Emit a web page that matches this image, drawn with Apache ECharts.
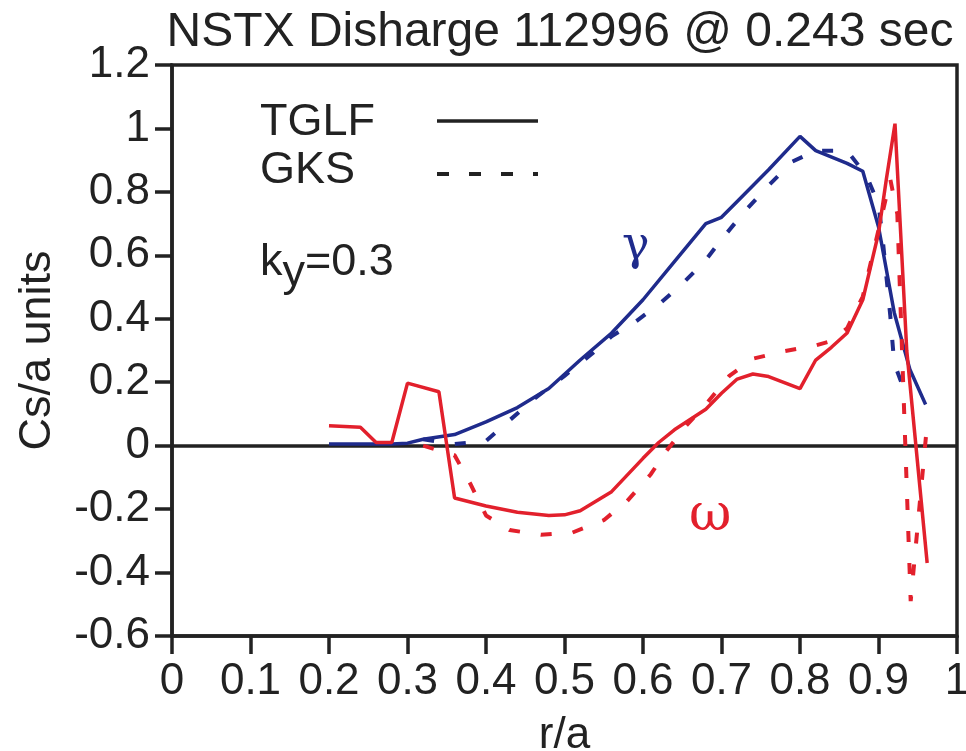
<!DOCTYPE html>
<html>
<head>
<meta charset="utf-8">
<script src="https://cdn.jsdelivr.net/npm/echarts@6/dist/echarts.min.js"></script>
<style>html,body{margin:0;padding:0;background:#fff;}#c{width:966px;height:751px;}</style>
</head>
<body>
<div id="c"></div>
<script>
// ---- data ----
var titleText = 'NSTX Disharge 112996 @ 0.243 sec';
var xTicks = [0, 0.1, 0.2, 0.3, 0.4, 0.5, 0.6, 0.7, 0.8, 0.9, 1];
var yTicks = [-0.6, -0.4, -0.2, 0, 0.2, 0.4, 0.6, 0.8, 1, 1.2];

var tglfGammaR = [0.20,0.24,0.28,0.30,0.32,0.36,0.40,0.44,0.48,0.52,0.56,0.60,0.64,0.68,0.70,0.72,0.76,0.80,0.82,0.86,0.88,0.90,0.92,0.94,0.96];
var tglfGammaV = [0.005,0.005,0.005,0.008,0.02,0.035,0.075,0.12,0.18,0.27,0.355,0.46,0.58,0.70,0.72,0.77,0.87,0.975,0.93,0.89,0.865,0.69,0.42,0.24,0.13];

var gksGammaR = [0.32,0.36,0.40,0.43,0.46,0.50,0.54,0.56,0.59,0.62,0.65,0.68,0.70,0.73,0.76,0.79,0.82,0.86,0.885,0.90,0.905,0.915,0.92,0.935];
var gksGammaV = [0.02,0.005,0.015,0.08,0.145,0.22,0.30,0.345,0.39,0.445,0.51,0.585,0.65,0.74,0.82,0.895,0.93,0.93,0.85,0.76,0.66,0.41,0.26,0.16];

var tglfOmegaR = [0.20,0.24,0.26,0.28,0.30,0.34,0.36,0.40,0.44,0.48,0.50,0.52,0.56,0.60,0.62,0.64,0.68,0.70,0.72,0.74,0.76,0.80,0.82,0.84,0.86,0.88,0.90,0.91,0.921,0.936,0.962];
var tglfOmegaV = [0.063,0.058,0.01,0.01,0.197,0.17,-0.165,-0.19,-0.21,-0.22,-0.218,-0.205,-0.145,-0.04,0.01,0.05,0.115,0.165,0.21,0.226,0.218,0.18,0.27,0.31,0.355,0.46,0.67,0.84,1.015,0.30,-0.37];

var gksOmegaR = [0.32,0.36,0.38,0.40,0.43,0.47,0.51,0.55,0.58,0.61,0.63,0.655,0.68,0.71,0.74,0.78,0.82,0.84,0.86,0.88,0.90,0.915,0.924,0.941,0.962];
var gksOmegaV = [0.0,-0.03,-0.12,-0.22,-0.266,-0.281,-0.274,-0.235,-0.174,-0.09,-0.016,0.063,0.13,0.22,0.274,0.298,0.316,0.33,0.37,0.47,0.68,0.84,0.73,-0.49,0.07];

function pairs(r, v) { return r.map(function (x, i) { return [x, v[i]]; }); }

var BLUE = '#1f2b8c';
var RED = '#e2202c';
var INK = '#222222';
var FONT = 'Liberation Sans';
var DASH = [11, 21];
var LW = 3.5;

var chart = echarts.init(document.getElementById('c'), null, {renderer: 'canvas'});
chart.setOption({
  backgroundColor: '#ffffff',
  animation: false,
  title: {
    text: titleText, left: 555, top: 4, textAlign: 'center',
    textStyle: {fontFamily: FONT, fontSize: 48, fontWeight: 'normal', color: INK}
  },
  grid: {left: 172, right: 9, top: 65, bottom: 115, show: true, borderColor: INK, borderWidth: 3.5,
    outerBoundsMode: 'none', containLabel: false},
  xAxis: {
    type: 'value', min: 0, max: 1, interval: 0.1,
    name: 'r/a', nameLocation: 'middle', nameGap: 78,
    nameTextStyle: {fontFamily: FONT, fontSize: 44, color: INK},
    axisLine: {show: true, onZero: false, lineStyle: {color: INK, width: 3.5}},
    axisTick: {show: true, length: 18, lineStyle: {color: INK, width: 3.5}},
    axisLabel: {margin: 24, fontFamily: FONT, fontSize: 44, color: INK,
      formatter: function (v) { return String(+v.toFixed(1)); }},
    splitLine: {show: false}
  },
  yAxis: {
    type: 'value', min: -0.6, max: 1.2, interval: 0.2,
    name: 'Cs/a units', nameLocation: 'middle', nameGap: 112, nameRotate: 90,
    nameTextStyle: {fontFamily: FONT, fontSize: 45, color: INK},
    axisLine: {show: true, lineStyle: {color: INK, width: 3.5}},
    axisTick: {show: true, length: 17, lineStyle: {color: INK, width: 3.5}},
    axisLabel: {margin: 22, fontFamily: FONT, fontSize: 44, color: INK,
      formatter: function (v) { return String(+v.toFixed(1)); }},
    splitLine: {show: false}
  },
  series: [
    {
      name: 'TGLF gamma', type: 'line', data: pairs(tglfGammaR, tglfGammaV),
      showSymbol: false, lineStyle: {color: BLUE, width: LW}, z: 3,
      markLine: {
        silent: true, symbol: 'none', label: {show: false},
        lineStyle: {color: INK, width: 3.5, type: 'solid'},
        data: [{yAxis: 0}], z: 2
      }
    },
    {
      name: 'GKS gamma', type: 'line', data: pairs(gksGammaR, gksGammaV),
      showSymbol: false, lineStyle: {color: BLUE, width: 4, type: DASH}, z: 3
    },
    {
      name: 'TGLF omega', type: 'line', data: pairs(tglfOmegaR, tglfOmegaV),
      showSymbol: false, lineStyle: {color: RED, width: LW}, z: 4
    },
    {
      name: 'GKS omega', type: 'line', data: pairs(gksOmegaR, gksOmegaV),
      showSymbol: false, lineStyle: {color: RED, width: 4, type: DASH}, z: 4
    }
  ],
  graphic: [
    {type: 'text', left: 260, top: 100, style: {text: 'TGLF', font: '45px "Liberation Sans"', fill: INK}},
    {type: 'text', left: 260, top: 148, style: {text: 'GKS', font: '45px "Liberation Sans"', fill: INK}},
    {type: 'line', shape: {x1: 437, y1: 121, x2: 538, y2: 121}, style: {stroke: INK, lineWidth: 3.5}},
    {type: 'line', shape: {x1: 437, y1: 174, x2: 538, y2: 174}, style: {stroke: INK, lineWidth: 4, lineDash: [12, 20]}},
    {type: 'text', left: 260, top: 240, style: {
      text: '{k|k}{s|y}{k|=0.3}',
      rich: {
        k: {fontFamily: FONT, fontSize: 45, fill: INK, color: INK},
        s: {fontFamily: FONT, fontSize: 45, fill: INK, color: INK, padding: [22, 0, 0, 0]}
      }
    }},
    {type: 'text', left: 622, top: 224, style: {text: 'γ', font: '46px "DejaVu Serif"', fill: BLUE}},
    {type: 'text', left: 689, top: 490, style: {text: 'ω', font: '52px "DejaVu Serif"', fill: RED}}
  ]
});
</script>
</body>
</html>
